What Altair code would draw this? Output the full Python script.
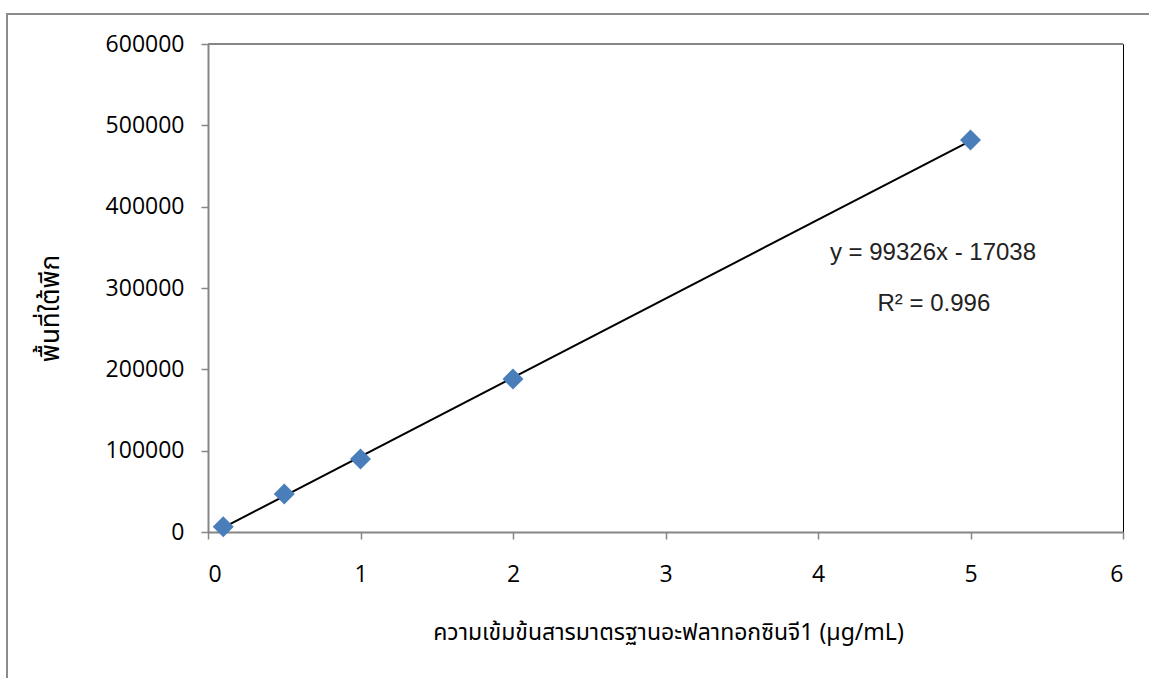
import altair as alt
import pandas as pd

# Calibration standards: concentration (µg/mL) and measured peak area
conc = [0.1, 0.5, 1.0, 2.0, 5.0]
area = [6500, 46700, 89800, 188100, 482000]

x_ticks = [0, 1, 2, 3, 4, 5, 6]
y_ticks = [0, 100000, 200000, 300000, 400000, 500000, 600000]

x_title = "ความเข้มข้นสารมาตรฐานอะฟลาทอกซินจี1 (µg/mL)"
y_title = "พื้นที่ใต้พีก"
equation_text = "y = 99326x - 17038"
r2_text = "R² = 0.996"

df = pd.DataFrame({"conc": conc, "area": area})

AXIS_GRAY = "#868686"
THAI_FONT = "Noto Sans Thai, Noto Sans Thai UI, Tahoma, Noto Sans, sans-serif"

x_enc = alt.X(
    "conc:Q",
    scale=alt.Scale(domain=[0, 6], nice=False),
    axis=alt.Axis(
        values=x_ticks, format="d", title=x_title,
        titleFont=THAI_FONT, titleFontSize=23, titleFontWeight="normal", titleColor="#000",
        titleX=460, titleY=100, titleAnchor="middle", titleAlign="center", titleBaseline="middle",
        labelPadding=24,
    ),
)
y_enc = alt.Y(
    "area:Q",
    scale=alt.Scale(domain=[0, 600000], nice=False),
    axis=alt.Axis(
        values=y_ticks, format="d", title=y_title,
        titleFont=THAI_FONT, titleFontSize=26, titleFontWeight="normal", titleColor="#000",
        titleAngle=270, titleX=-158, titleY=264, titleAlign="center", titleBaseline="middle",
        labelPadding=17,
    ),
)

# outer chart frame
frame = alt.Chart(pd.DataFrame({"k": [0]})).mark_rect(
    fillOpacity=0, stroke="#8c8c8c", strokeWidth=2
).encode(
    x=alt.value(-201), x2=alt.value(1000), y=alt.value(-30), y2=alt.value(700)
)

top_line = alt.Chart(pd.DataFrame({"k": [0]})).mark_rule(
    color=AXIS_GRAY, strokeWidth=2
).encode(y=alt.datum(600000))

trend = alt.Chart(df).transform_regression("conc", "area").mark_line(
    color="black", strokeWidth=2
).encode(x=x_enc, y=y_enc)

points = alt.Chart(df).mark_point(
    shape="diamond", filled=True, size=440, color="#4a7ebb", opacity=1
).encode(x=x_enc, y=y_enc)

eq = alt.Chart(pd.DataFrame({"k": [0]})).mark_text(
    text=equation_text, font="Liberation Sans", fontSize=24, color="#222",
    align="center", baseline="middle"
).encode(x=alt.datum(4.754), y=alt.datum(343000))

r2 = alt.Chart(pd.DataFrame({"k": [0]})).mark_text(
    text=r2_text, font="Liberation Sans", fontSize=24, color="#222",
    align="center", baseline="middle"
).encode(x=alt.datum(4.76), y=alt.datum(280300))

chart = alt.layer(frame, top_line, trend, points, eq, r2).properties(
    width=915, height=488,
    autosize=alt.AutoSizeParams(type="none"),
    padding={"left": 208, "top": 44, "right": 26, "bottom": 146},
    background="white",
).configure_view(
    stroke="black", strokeWidth=1
).configure_axis(
    grid=False,
    domainColor=AXIS_GRAY, domainWidth=2,
    tickColor=AXIS_GRAY, tickWidth=1.5, tickSize=7,
    labelFont="Open Sans", labelFontSize=23, labelColor="#000",
)

chart.save("out.html", embed_options={"renderer": "svg", "actions": False})
